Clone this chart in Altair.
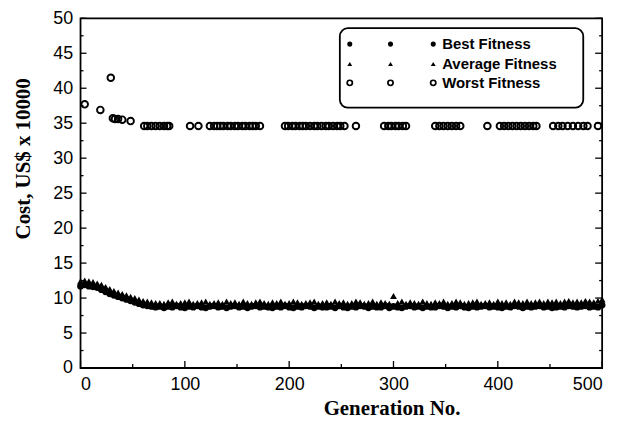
import altair as alt
import pandas as pd

W, H = 525, 352

# ---------------- data ----------------
gen_step4 = list(range(0, 501, 4))

best_val = [11.7, 11.9, 11.7, 11.6, 11.5, 11.2, 10.9, 10.6, 10.4, 10.2, 10.0, 9.8, 9.6, 9.4, 9.2, 9.0, 8.9, 8.8, 8.7,
            8.8, 8.6, 8.8, 8.7, 8.9, 8.7, 8.6, 8.8, 8.7, 8.9,
            8.7, 8.6, 8.8, 8.9, 8.7, 8.8, 8.6, 8.8, 8.9, 8.7,
            8.8, 8.6, 8.8, 8.9, 8.7, 8.8, 8.7, 8.6, 8.8, 8.7,
            8.9, 8.7, 8.6, 8.8, 8.7, 8.9, 8.8, 8.6, 8.8, 8.7,
            8.7, 8.8, 8.6, 8.9, 8.7, 8.6, 8.8, 8.7, 8.9, 8.8,
            8.6, 8.8, 8.7, 8.7, 8.9, 8.6, 8.8, 8.7, 8.6, 8.8,
            8.9, 8.7, 8.8, 8.6, 8.8, 8.7, 8.7, 8.9, 8.8, 8.6,
            8.8, 8.7, 8.9, 8.7, 8.6, 8.8, 8.7, 8.8, 8.9, 8.7,
            8.8, 8.7, 8.6, 8.8, 8.7, 8.9, 8.8, 8.6, 8.8, 8.7,
            8.8, 8.9, 8.7, 8.8, 8.6, 8.7, 8.8, 8.7, 8.9, 8.8,
            8.7, 8.8, 8.9, 8.7, 8.8, 8.7, 9.0]

avg_val = [12.4, 12.5, 12.4, 12.3, 12.1, 11.9, 11.6, 11.3, 11.0, 10.8, 10.6, 10.4, 10.2, 10.0, 9.8, 9.6, 9.5, 9.4, 9.3,
           9.3, 9.2, 9.4, 9.5, 9.2, 9.3, 9.4, 9.5, 9.2, 9.3,
           9.4, 9.5, 9.2, 9.3, 9.4, 9.2, 9.5, 9.3, 9.4, 9.2,
           9.5, 9.3, 9.2, 9.4, 9.5, 9.3, 9.2, 9.4, 9.3, 9.5,
           9.2, 9.3, 9.5, 9.4, 9.2, 9.3, 9.4, 9.5, 9.2, 9.3,
           9.4, 9.2, 9.5, 9.3, 9.4, 9.2, 9.3, 9.5, 9.4, 9.2,
           9.3, 9.5, 9.2, 9.4, 9.3, 9.2, 10.3, 9.3, 9.5, 9.2,
           9.4, 9.3, 9.2, 9.5, 9.3, 9.2, 9.4, 9.3, 9.5, 9.2,
           9.3, 9.5, 9.4, 9.2, 9.3, 9.4, 9.5, 9.2, 9.3, 9.4,
           9.2, 9.5, 9.3, 9.4, 9.2, 9.5, 9.4, 9.3, 9.5, 9.3,
           9.4, 9.5, 9.3, 9.5, 9.4, 9.5, 9.3, 9.5, 9.6, 9.4,
           9.5, 9.4, 9.6, 9.5, 9.4, 9.6, 9.8]

worst_gen = [4, 19, 29, 31, 33, 36, 40, 48,
             61, 64, 68, 72, 76, 80, 83, 85,
             105, 113,
             124, 128, 131, 134, 137, 141, 144, 148, 151, 155, 158, 162, 165, 168, 172,
             196, 199, 203, 206, 210, 213, 216, 220, 224, 227, 231, 235, 238, 242, 246, 249, 253,
             264,
             291, 295, 298, 302, 305, 309, 312,
             340, 344, 348, 352, 356, 360, 364,
             390,
             402, 406, 410, 414, 418, 422, 426, 430, 434, 437,
             453, 458, 462, 467, 472, 477, 482,
             486, 496]
worst_val = [37.7, 36.9, 41.5, 35.7, 35.6, 35.6, 35.5, 35.3,
             34.6, 34.6, 34.6, 34.6, 34.6, 34.6, 34.6, 34.6,
             34.6, 34.6,
             34.6, 34.6, 34.6, 34.6, 34.6, 34.6, 34.6, 34.6, 34.6, 34.6, 34.6, 34.6, 34.6, 34.6, 34.6,
             34.6, 34.6, 34.6, 34.6, 34.6, 34.6, 34.6, 34.6, 34.6, 34.6, 34.6, 34.6, 34.6, 34.6, 34.6, 34.6, 34.6,
             34.6,
             34.6, 34.6, 34.6, 34.6, 34.6, 34.6, 34.6,
             34.6, 34.6, 34.6, 34.6, 34.6, 34.6, 34.6,
             34.6,
             34.6, 34.6, 34.6, 34.6, 34.6, 34.6, 34.6, 34.6, 34.6, 34.6,
             34.6, 34.6, 34.6, 34.6, 34.6, 34.6, 34.6,
             34.6, 34.6]

x_major = [0, 100, 200, 300, 400, 500]
x_minor = [50, 150, 250, 350, 450]
y_major = [0, 5, 10, 15, 20, 25, 30, 35, 40, 45, 50]
y_minor = [2.5, 7.5, 12.5, 17.5, 22.5, 27.5, 32.5, 37.5, 42.5, 47.5]
legend_labels = ["Best Fitness", "Average Fitness", "Worst Fitness"]

# ---------------- tables ----------------
best_df = pd.DataFrame({"gen": gen_step4, "cost": best_val})
avg_df = pd.DataFrame({"gen": gen_step4, "cost": avg_val})
worst_df = pd.DataFrame({"gen": worst_gen, "cost": worst_val})

xs = alt.Scale(domain=[0, 500], nice=False, zero=False)
ys = alt.Scale(domain=[0, 50], nice=False, zero=False)

LABEL_FONT = "Liberation Sans"
TITLE_FONT = "Liberation Serif"

x_axis = alt.Axis(values=x_major, ticks=False, domain=False, grid=False,
                  labelFont=LABEL_FONT, labelFontSize=18, labelColor="black", labelPadding=8,
                  title="Generation No.", titleFont=TITLE_FONT, titleFontSize=21,
                  titleFontWeight="bold", titleColor="black",
                  titleX=313, titleY=41, titleAlign="center", titleBaseline="middle")
y_axis = alt.Axis(values=y_major, ticks=False, domain=False, grid=False,
                  labelFont=LABEL_FONT, labelFontSize=18, labelColor="black", labelPadding=8,
                  title="Cost, US$ x 10000", titleFont=TITLE_FONT, titleFontSize=21,
                  titleFontWeight="bold", titleColor="black", titleAngle=-90,
                  titleX=-57, titleY=141, titleAlign="center", titleBaseline="middle")

X = lambda f: alt.X(f, scale=xs, axis=x_axis)
Y = lambda f: alt.Y(f, scale=ys, axis=y_axis)

worst = alt.Chart(worst_df).mark_point(shape="circle", filled=False, color="black",
                                       size=44, strokeWidth=1.9, opacity=1).encode(
    x=X("gen:Q"), y=Y("cost:Q"))
avg = alt.Chart(avg_df).mark_point(shape="triangle-up", filled=True, color="black",
                                   size=48, opacity=1).encode(
    x=X("gen:Q"), y=Y("cost:Q"))
best = alt.Chart(best_df).mark_point(shape="circle", filled=True, color="black",
                                     size=46, opacity=1).encode(
    x=X("gen:Q"), y=Y("cost:Q"))

# inward ticks
def xticks(vals, length):
    df = pd.DataFrame({"gen": vals})
    return alt.Chart(df).mark_rule(color="black", strokeWidth=1.3).encode(
        x=X("gen:Q"), y=alt.value(H), y2=alt.value(H - length))

def yticks(vals, length, right=False):
    df = pd.DataFrame({"cost": vals})
    x0, x1 = (W, W - length) if right else (0, length)
    return alt.Chart(df).mark_rule(color="black", strokeWidth=1.3).encode(
        y=Y("cost:Q"), x=alt.value(x0), x2=alt.value(x1))

ticks = [xticks(x_major, 7), xticks(x_minor, 4),
         yticks(y_major, 6), yticks(y_minor, 3),
         yticks(y_major, 7, right=True), yticks(y_minor, 3, right=True)]

# legend
one = pd.DataFrame({"k": [0]})
leg_layers = [alt.Chart(one).mark_rect(fill="white", stroke="black", strokeWidth=1.8,
                                       cornerRadius=8).encode(
    x=alt.value(261), x2=alt.value(506), y=alt.value(10), y2=alt.value(90))]
row_y = [26, 46, 65]
sym_x = [271, 312, 355]
for i, lab in enumerate(legend_labels):
    for sx in sym_x:
        if i == 0:
            m = alt.Chart(one).mark_point(shape="circle", filled=True, color="black", size=26, opacity=1)
        elif i == 1:
            m = alt.Chart(one).mark_point(shape="triangle-up", filled=True, color="black", size=24, opacity=1)
        else:
            m = alt.Chart(one).mark_point(shape="circle", filled=False, color="black", size=28,
                                          strokeWidth=1.7, opacity=1)
        leg_layers.append(m.encode(x=alt.value(sx), y=alt.value(row_y[i])))
    leg_layers.append(alt.Chart(one).mark_text(align="left", baseline="middle", font=LABEL_FONT,
                                               fontSize=15, fontWeight="bold", color="black").encode(
        x=alt.value(364), y=alt.value(row_y[i]), text=alt.value(lab)))

chart = alt.layer(worst, avg, best, *ticks, *leg_layers).properties(
    width=W, height=H,
    autosize=alt.AutoSizeParams(type="none"),
    padding={"left": 73, "top": 9, "right": 20, "bottom": 55},
    background="white",
).configure_view(stroke="black", strokeWidth=1.8)

chart.save("out.html", embed_options={"renderer": "svg", "actions": False})
